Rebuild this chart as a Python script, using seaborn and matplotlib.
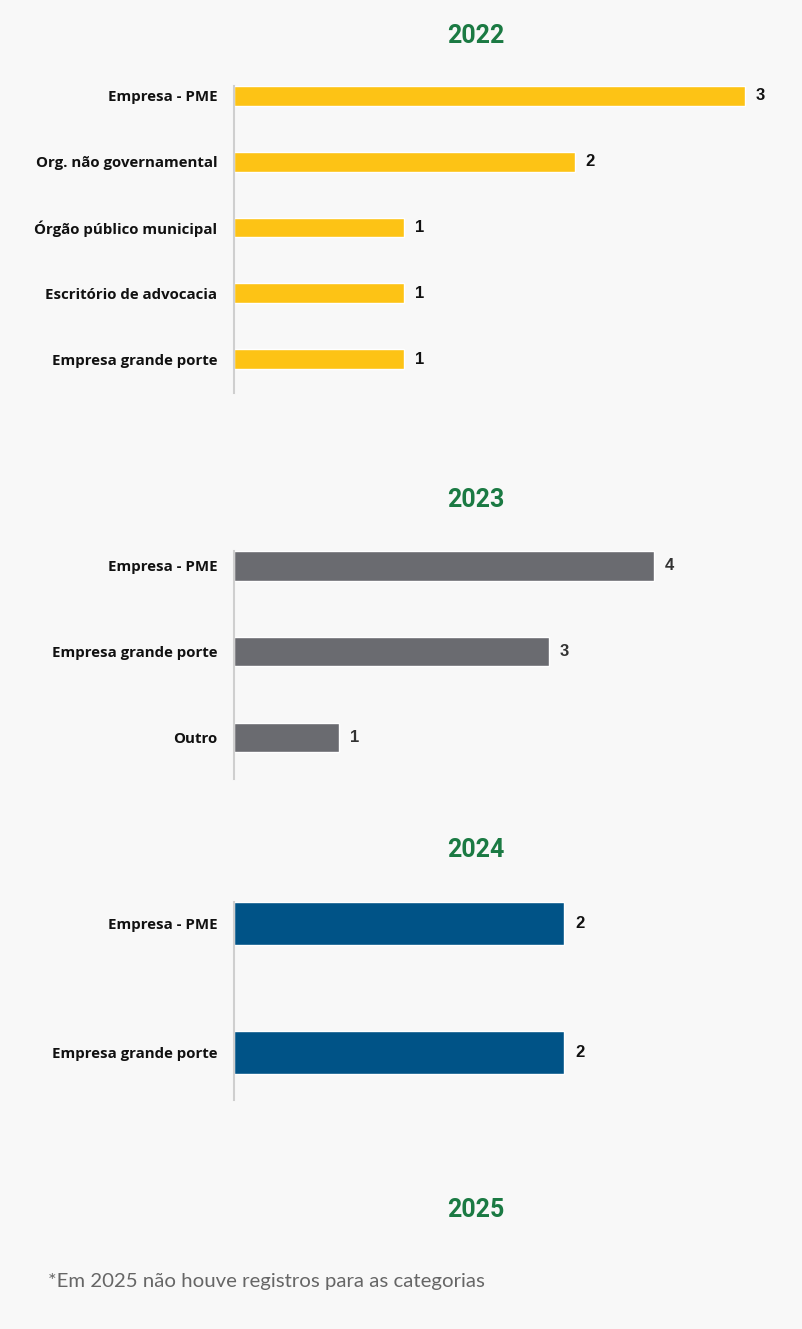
import matplotlib
matplotlib.use('Agg')
import matplotlib.pyplot as plt
import seaborn as sns
import pandas as pd

# data per year
cats_2022 = ['Empresa - PME', 'Org. não governamental', 'Órgão público municipal',
             'Escritório de advocacia', 'Empresa grande porte']
vals_2022 = [3, 2, 1, 1, 1]

cats_2023 = ['Empresa - PME', 'Empresa grande porte', 'Outro']
vals_2023 = [4, 3, 1]

cats_2024 = ['Empresa - PME', 'Empresa grande porte']
vals_2024 = [2, 2]

years = ['2022', '2023', '2024', '2025']
note = '*Em 2025 não houve registros para as categorias'

sns.set_theme(style='white')
plt.rcParams['font.family'] = ['Open Sans', 'DejaVu Sans']

W, H = 802, 1329
bg = '#f8f8f8'
green = '#1b7a43'

fig = plt.figure(figsize=(W / 100, H / 100), dpi=100)
fig.patch.set_facecolor(bg)


def px_axes(left, top, right, bottom):
    return fig.add_axes([left / W, 1 - bottom / H, (right - left) / W, (bottom - top) / H])


# (categories, values, colour, value colour, axes top/bottom px, ylim, bar width, xmax)
panels = [
    (cats_2022, vals_2022, '#fdc315', '#111111', 86, 393, (4.517, -0.152), 0.30, 3.171),
    (cats_2023, vals_2023, '#6a6b70', '#333333', 551, 779, (2.49, -0.175), 0.34, 5.143),
    (cats_2024, vals_2024, '#005387', '#111111', 902, 1100, (1.368, -0.167), 0.337, 3.273),
]

for cats, vals, col, vcol, top, bottom, ylim, bw, xmax in panels:
    ax = px_axes(234, top, 774, bottom)
    df = pd.DataFrame({'cat': cats, 'val': vals})
    sns.barplot(data=df, y='cat', x='val', color=col, orient='h', width=bw,
                saturation=1, ax=ax)
    ax.set_facecolor('none')
    ax.set_xlim(0, xmax)
    ax.set_ylim(*ylim)
    ax.set_xlabel('')
    ax.set_ylabel('')
    ax.set_xticks([])
    ax.tick_params(axis='y', length=0, pad=12)
    for lab in ax.get_yticklabels():
        lab.set_fontweight('bold')
        lab.set_fontsize(10.8)
        lab.set_color('#111111')
    for s in ['top', 'right', 'bottom']:
        ax.spines[s].set_visible(False)
    ax.spines['left'].set_color('#cfcfcf')
    ax.spines['left'].set_linewidth(1.5)
    ax.bar_label(ax.containers[0], padding=8, fontsize=12, fontweight='bold', color=vcol,
                 family=['Liberation Sans', 'DejaVu Sans'])

title_y = [36, 500, 850, 1210]
for yr, ty in zip(years, title_y):
    fig.text(476 / W, 1 - ty / H, yr, ha='center', va='center', fontsize=18,
             fontweight='bold', color=green,
             family=['Liberation Sans Narrow', 'Roboto', 'DejaVu Sans'])

fig.text(48 / W, 1 - 1281 / H, note, ha='left', va='center', fontsize=14.7,
         color='#666666', family=['Lato', 'DejaVu Sans'])

fig.savefig('out.png', dpi=100, facecolor=bg)
